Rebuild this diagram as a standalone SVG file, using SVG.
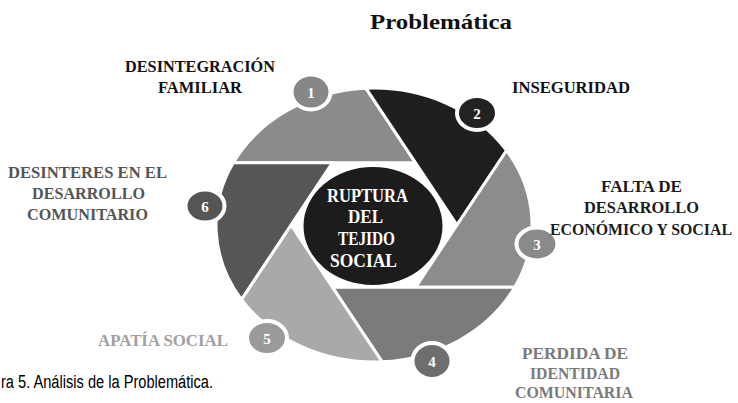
<svg xmlns="http://www.w3.org/2000/svg" width="738" height="403" viewBox="0 0 738 403">
<style>
.blade{stroke:#fff;stroke-width:3;stroke-linejoin:miter}
.num{stroke:#fff;stroke-width:4}
.nt{font-family:"Liberation Serif","DejaVu Serif",serif;font-weight:bold;font-size:15px;fill:#fff;text-anchor:middle}
.lb{font-family:"Liberation Serif","DejaVu Serif",serif;font-weight:bold;font-size:17.5px;text-anchor:middle}
.ct{font-family:"Liberation Serif","DejaVu Serif",serif;font-weight:bold;font-size:19.5px;fill:#fff;text-anchor:middle}
.cap{font-family:"Liberation Sans",Arial,sans-serif;font-size:18px;fill:#000}
</style>
<rect width="738" height="403" fill="#fff"/>
<text x="441" y="29" font-family="Liberation Serif, DejaVu Serif, serif" font-weight="bold" font-size="22" text-anchor="middle" textLength="142" lengthAdjust="spacingAndGlyphs" fill="#111">Problemática</text>

<g id="blade1">
<path class="blade" fill="#8b8b8b" d="M233.3,162.7 L415.5,162.7 L365.9,88.2 A158,137 0 0 0 233.3,162.7 Z"/>
<ellipse class="num" cx="311" cy="92" rx="19.5" ry="17.5" fill="#878787"/>
<text class="nt" x="311" y="97.5">1</text>
<text class="lb" x="200" y="72" textLength="150" lengthAdjust="spacingAndGlyphs" fill="#111">DESINTEGRACIÓN</text>
<text class="lb" x="200" y="93" textLength="84" lengthAdjust="spacingAndGlyphs" fill="#111">FAMILIAR</text>
</g>

<g id="blade2">
<path class="blade" fill="#1f1f1f" d="M365.9,88.2 L457,225 L506.6,150.5 A158,137 0 0 0 365.9,88.2 Z"/>
<ellipse class="num" cx="477" cy="113" rx="20" ry="17" fill="#222"/>
<text class="nt" x="477" y="118.5">2</text>
<text class="lb" x="571" y="93" textLength="118" lengthAdjust="spacingAndGlyphs" fill="#111">INSEGURIDAD</text>
</g>

<g id="blade3">
<path class="blade" fill="#8c8c8c" d="M506.6,150.5 L415.5,287.3 L514.7,287.3 A158,137 0 0 0 506.6,150.5 Z"/>
<ellipse class="num" cx="537" cy="244" rx="20.5" ry="16.5" fill="#8a8a8a"/>
<text class="nt" x="537" y="249.5">3</text>
<text class="lb" x="641.5" y="192" textLength="81" lengthAdjust="spacingAndGlyphs" fill="#1c1c1c">FALTA DE</text>
<text class="lb" x="641.5" y="213" textLength="115" lengthAdjust="spacingAndGlyphs" fill="#1c1c1c">DESARROLLO</text>
<text class="lb" x="641" y="235" font-size="15.5" textLength="182" lengthAdjust="spacingAndGlyphs" fill="#1c1c1c">ECONÓMICO Y SOCIAL</text>
</g>

<g id="blade4">
<path class="blade" fill="#7b7b7b" d="M514.7,287.3 L332.5,287.3 L382.1,361.8 A158,137 0 0 0 514.7,287.3 Z"/>
<ellipse class="num" cx="432" cy="361" rx="19.5" ry="18" fill="#6e6e6e"/>
<text class="nt" x="432" y="366.5">4</text>
<text class="lb" x="575" y="359" textLength="106" lengthAdjust="spacingAndGlyphs" fill="#7a7a7a">PERDIDA DE</text>
<text class="lb" x="575" y="379" textLength="90" lengthAdjust="spacingAndGlyphs" fill="#7a7a7a">IDENTIDAD</text>
<text class="lb" x="574" y="398" textLength="118" lengthAdjust="spacingAndGlyphs" fill="#7a7a7a">COMUNITARIA</text>
</g>

<g id="blade5">
<path class="blade" fill="#a9a9a9" d="M382.1,361.8 L291,225 L241.4,299.5 A158,137 0 0 0 382.1,361.8 Z"/>
<ellipse class="num" cx="267" cy="338" rx="20" ry="17" fill="#9a9a9a"/>
<text class="nt" x="267" y="343.5">5</text>
<text class="lb" x="163" y="346" textLength="130" lengthAdjust="spacingAndGlyphs" fill="#a0a0a0">APATÍA SOCIAL</text>
</g>

<g id="blade6">
<path class="blade" fill="#565656" d="M241.4,299.5 L332.5,162.7 L233.3,162.7 A158,137 0 0 0 241.4,299.5 Z"/>
<ellipse class="num" cx="205" cy="206" rx="19.5" ry="16.5" fill="#555"/>
<text class="nt" x="205" y="211.5">6</text>
<text class="lb" x="87.5" y="178" textLength="159" lengthAdjust="spacingAndGlyphs" fill="#555">DESINTERES EN EL</text>
<text class="lb" x="88.5" y="199" textLength="113" lengthAdjust="spacingAndGlyphs" fill="#555">DESARROLLO</text>
<text class="lb" x="87.5" y="220" textLength="121" lengthAdjust="spacingAndGlyphs" fill="#555">COMUNITARIO</text>
</g>

<g id="center">
<ellipse cx="373" cy="226" rx="69.5" ry="59" fill="#1c1c1c"/>
<text class="ct" x="367.5" y="202" textLength="81" lengthAdjust="spacingAndGlyphs">RUPTURA</text>
<text class="ct" x="365.5" y="223" textLength="35" lengthAdjust="spacingAndGlyphs">DEL</text>
<text class="ct" x="366.5" y="245" textLength="57" lengthAdjust="spacingAndGlyphs">TEJIDO</text>
<text class="ct" x="363.5" y="267" textLength="67" lengthAdjust="spacingAndGlyphs">SOCIAL</text>
</g>

<text class="cap" x="1" y="388" textLength="212" lengthAdjust="spacingAndGlyphs">ra 5. Análisis de la Problemática.</text>
</svg>
